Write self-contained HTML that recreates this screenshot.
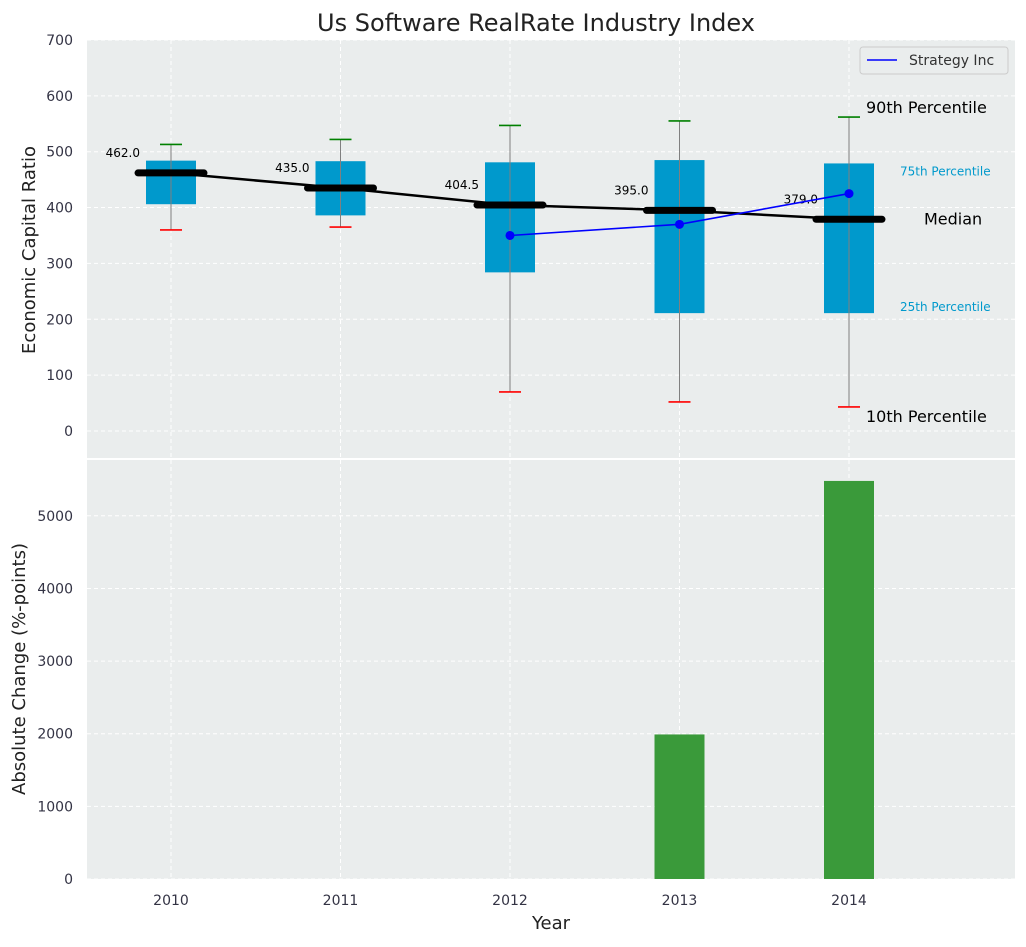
<!DOCTYPE html>
<html><head><meta charset="utf-8"><style>
body{margin:0;background:#fff;font-family:"Liberation Sans","DejaVu Sans",sans-serif}
svg text{font-family:"DejaVu Sans","Liberation Sans",sans-serif}
</style></head><body>
<svg id="c" width="1026" height="942" xmlns="http://www.w3.org/2000/svg"></svg>
<script>
const years=["2010","2011","2012","2013","2014"];
const p10=[360,365,70,52,43];
const p25=[406,386,284,211,211];
const medians=[462,435,404.5,395,379];
const p75=[484,483,481,485,479];
const p90=[513,522,547,555,562];
const stratYears=[2,3,4];
const stratVals=[350,370,425];
const changes=[0,0,0,1990,5480];
const topTicks=[0,100,200,300,400,500,600,700];
const botTicks=[0,1000,2000,3000,4000,5000];

const NS="http://www.w3.org/2000/svg",svg=document.getElementById('c');
function el(t,a,p,txt){
 if(p!=null && !(p instanceof Node)){txt=p;p=null;}
 const e=document.createElementNS(NS,t);for(const k in a)e.setAttribute(k,a[k]);
 if(txt!=null)e.textContent=txt;(p||svg).appendChild(e);return e;}
const L=87,R=1015;
const xs=i=>171+i*169.5;
const T1=40,B1=458;
const y1=v=>431-v*0.5586;
const T2=460,B2=879;
const y2=v=>B2-v*0.07264;

let g=el('rect',{x:L,y:T1,width:R-L,height:B1-T1,fill:'#eaeded'});

g=el('rect',{x:L,y:T2,width:R-L,height:B2-T2,fill:'#eaeded'});

years.forEach((y,i)=>{
 el('line',{x1:xs(i),x2:xs(i),y1:T1,y2:B1,stroke:'#fff','stroke-dasharray':'4,3','stroke-width':1});
 el('line',{x1:xs(i),x2:xs(i),y1:T2,y2:B2,stroke:'#fff','stroke-dasharray':'4,3','stroke-width':1});
 const t=el('text',{x:xs(i),y:905,'text-anchor':'middle','font-size':14,fill:'#334'},null,y);
 
});
topTicks.forEach(v=>{
 el('line',{x1:L,x2:R,y1:y1(v),y2:y1(v),stroke:'#fff','stroke-dasharray':'4,3'});
 const t=el('text',{x:73,y:y1(v)+5,'text-anchor':'end','font-size':14,fill:'#334'},null,String(v));
 
});
botTicks.forEach(v=>{
 el('line',{x1:L,x2:R,y1:y2(v),y2:y2(v),stroke:'#fff','stroke-dasharray':'4,3'});
 const t=el('text',{x:73,y:y2(v)+5,'text-anchor':'end','font-size':14,fill:'#334'},null,String(v));
 
});
years.forEach((y,i)=>{
 const x=xs(i);
 let b=el('rect',{x:x-25,y:y1(p75[i]),width:50,height:y1(p25[i])-y1(p75[i]),fill:'#0099cc'});
 
 el('line',{x1:x,x2:x,y1:y1(p90[i]),y2:y1(p10[i]),stroke:'#808080','stroke-width':1});
 el('line',{x1:x-11,x2:x+11,y1:y1(p90[i]),y2:y1(p90[i]),stroke:'green','stroke-width':1.6});
 el('line',{x1:x-11,x2:x+11,y1:y1(p10[i]),y2:y1(p10[i]),stroke:'red','stroke-width':1.6});
});
let pts=years.map((y,i)=>xs(i)+','+y1(medians[i])).join(' ');
let ml=el('polyline',{points:pts,fill:'none',stroke:'#000','stroke-width':2.5});

years.forEach((y,i)=>{
 const x=xs(i);
 let m=el('line',{x1:x-33,x2:x+33,y1:y1(medians[i]),y2:y1(medians[i]),stroke:'#000','stroke-width':7,'stroke-linecap':'round'});
 
 let t=el('text',{x:x-31,y:y1(medians[i])-16,'text-anchor':'end','font-size':12,fill:'#000'},null,medians[i].toFixed(1));
 
});
let sp=el('polyline',{points:stratYears.map((k,j)=>xs(k)+','+y1(stratVals[j])).join(' '),fill:'none',stroke:'blue','stroke-width':1.6});

stratYears.forEach((k,j)=>{let c=el('circle',{cx:xs(k),cy:y1(stratVals[j]),r:4.5,fill:'blue'});
 });
const ax=xs(4);
[[ax+17,y1(p90[4])-4,'90th Percentile',16,'#000'],[ax+51,y1(p75[4])+12,'75th Percentile',12,'#0099cc'],
 [ax+75,y1(medians[4])+5,'Median',16,'#000'],[ax+51,y1(p25[4])-2,'25th Percentile',12,'#0099cc'],
 [ax+17,y1(p10[4])+15,'10th Percentile',16,'#000']].forEach(a=>{
 let t=el('text',{x:a[0],y:a[1],'font-size':a[3],fill:a[4]},null,a[2]);
 
});
let lg=el('g',{});
el('rect',{x:860,y:47,width:148,height:27,fill:'#eaeded',stroke:'#ccc',rx:3},lg);
el('line',{x1:867,x2:897,y1:60,y2:60,stroke:'blue','stroke-width':1.6},lg);
el('text',{x:909,y:65,'font-size':14,fill:'#333'},lg,'Strategy Inc');
years.forEach((y,i)=>{ if(!changes[i])return;
 let b=el('rect',{x:xs(i)-25,y:y2(changes[i]),width:50,height:y2(0)-y2(changes[i]),fill:'#3a9a3a'});
 
});
el('line',{x1:L,x2:R,y1:459,y2:459,stroke:'#fff','stroke-width':2});
let t=el('text',{x:536,y:31,'text-anchor':'middle','font-size':24,fill:'#222'},null,'Us Software RealRate Industry Index');

t=el('text',{x:0,y:0,'text-anchor':'middle','font-size':18,fill:'#222',transform:'translate(35,250) rotate(-90)'},null,'Economic Capital Ratio');

t=el('text',{x:0,y:0,'text-anchor':'middle','font-size':18,fill:'#222',transform:'translate(25,669) rotate(-90)'},null,'Absolute Change (%-points)');

t=el('text',{x:551,y:929,'text-anchor':'middle','font-size':18,fill:'#222'},null,'Year');

</script>
</body></html>
